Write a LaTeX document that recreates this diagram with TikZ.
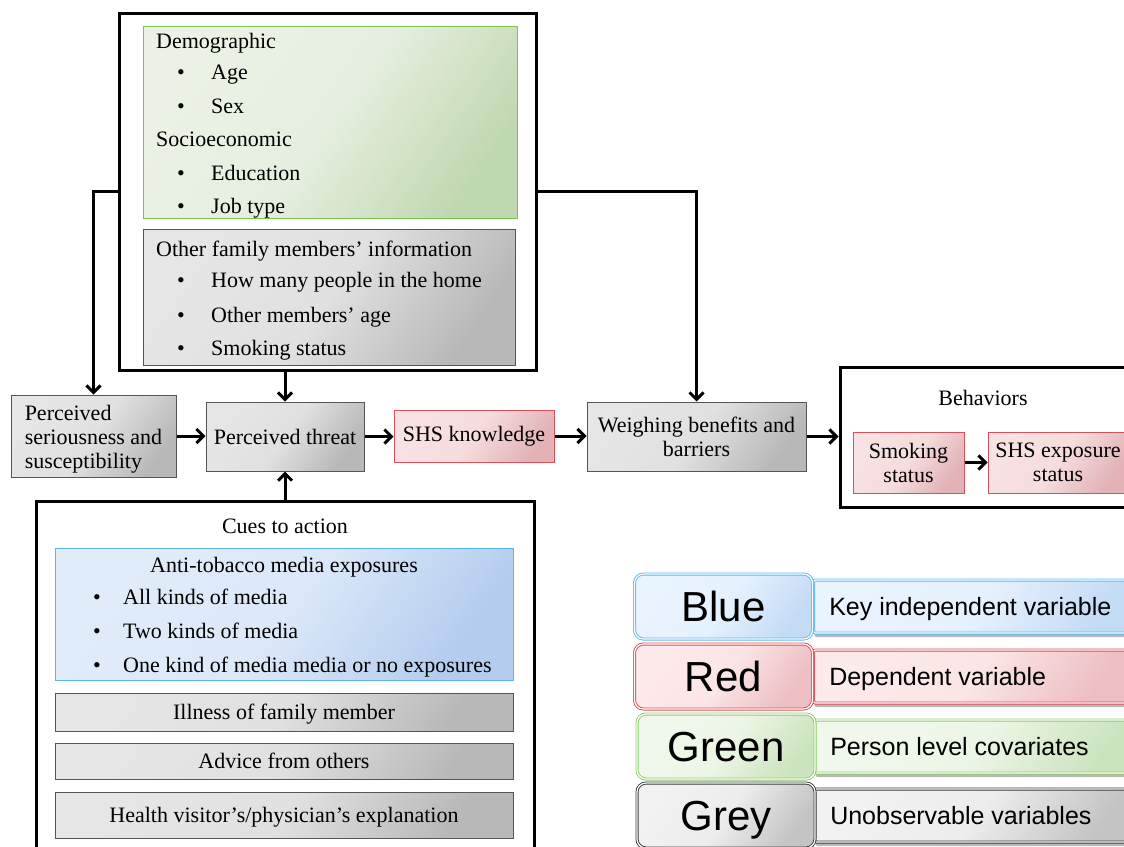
\documentclass[tikz,border=0pt]{standalone}
\usepackage{fontspec}
\setmainfont{Liberation Serif}
\newfontfamily\legfont{Liberation Sans}
\usetikzlibrary{arrows.meta,positioning,shadows}

\definecolor{grnA}{HTML}{EBF2E5}
\definecolor{grnB}{HTML}{C0D8B0}
\definecolor{grnD}{HTML}{7CC251}
\definecolor{gryA}{HTML}{E6E6E6}
\definecolor{gryB}{HTML}{B8B8B8}
\definecolor{gryD}{HTML}{555555}
\definecolor{redA}{HTML}{F8E2E3}
\definecolor{redB}{HTML}{E2B2B6}
\definecolor{redD}{HTML}{D9505A}
\definecolor{bluA}{HTML}{E1ECFA}
\definecolor{bluB}{HTML}{B4CDEE}
\definecolor{bluD}{HTML}{5AB6EA}
\definecolor{lbluA}{HTML}{EAF4FF}
\definecolor{lbluB}{HTML}{C4DBF5}
\definecolor{lbluD}{HTML}{5BB9EC}
\definecolor{lredA}{HTML}{FDEAEA}
\definecolor{lredB}{HTML}{EDBEC2}
\definecolor{lredD}{HTML}{DE4B57}
\definecolor{lgrnA}{HTML}{F0F8EB}
\definecolor{lgrnB}{HTML}{CCE4BE}
\definecolor{lgrnD}{HTML}{8DCB6B}
\definecolor{lgryA}{HTML}{F2F2F2}
\definecolor{lgryB}{HTML}{C4C4C4}
\definecolor{lgryD}{HTML}{3A3A3A}

\newcommand{\itm}[1]{\makebox[34pt][l]{\textbullet}#1}
\newcommand{\itmc}[1]{\makebox[30pt][l]{\textbullet}#1}

\tikzset{
  bigframe/.style={draw, line width=3pt, inner sep=0pt},
  grad/.style 2 args={left color=#1, right color=#2, middle color=#1!88!#2, shading angle=55},
  grnbox/.style={draw=grnD, line width=1pt, grad={grnA}{grnB}, inner sep=0pt},
  grybox/.style={draw=gryD, line width=1pt, grad={gryA}{gryB}, inner sep=0pt},
  redbox/.style={draw=redD, line width=1pt, grad={redA}{redB}, inner sep=0pt},
  blubox/.style={draw=bluD, line width=1pt, grad={bluA}{bluB}, inner sep=0pt},
  txt/.style={inner sep=0pt, anchor=base west},
  ctxt/.style={inner sep=0pt, anchor=base},
  conn/.style={line width=3pt, -{Straight Barb[length=7pt,width=14pt]}},
  legl/.style={rounded corners=9pt, line width=0.9pt, double=white, double distance=1.2pt,
    inner sep=0pt, minimum width=178pt, minimum height=65pt, text height=30pt, text depth=0pt,
    font=\legfont\fontsize{42}{44}\selectfont},
  legr/.style={rounded corners=2pt, line width=0.9pt, double=white, double distance=1.2pt,
    inner sep=0pt, minimum width=326pt, minimum height=53pt,
    drop shadow={shadow xshift=1pt, shadow yshift=-4pt, fill=black!55}},
  legtxt/.style={inner sep=0pt, text height=18pt, text depth=0pt, font=\legfont\fontsize{25}{28}\selectfont}
}

\begin{document}
\begin{tikzpicture}[x=1pt, y=-1pt, font=\fontsize{22}{24}\selectfont]
\clip (0,0) rectangle (1124,846);

% covariates
\node[bigframe, minimum width=417pt, minimum height=357pt] (topfr) at (327.5,191.5) {};
\node[grnbox, minimum width=374pt, minimum height=192pt] (demog) at (330,122) {};
\node[grybox, minimum width=372pt, minimum height=136pt] (famil) at (329,297) {};
\node[txt] (demlab) at (156,48) {Demographic};
\foreach \t/\y [count=\i] in {Age/79, Sex/113}
  \node[txt] (dem\i) at (177,\y) {\itm{\t}};
\node[txt] (soclab) at (156,146) {Socioeconomic};
\foreach \t/\y [count=\i] in {Education/180, Job type/213}
  \node[txt] (soc\i) at (177,\y) {\itm{\t}};
\node[txt] (famlab) at (156,256) {Other family members' information};
\foreach \t/\y [count=\i] in {How many people in the home/287, Other members' age/322, Smoking status/355}
  \node[txt] (fam\i) at (177,\y) {\itm{\t}};

% main chain
\node[grybox, minimum width=165pt, minimum height=82pt, align=left] (seri) at (93.5,436) {\rule{0pt}{21.5pt}Perceived\\seriousness and\\susceptibility};
\node[grybox, minimum width=158pt, minimum height=69pt] (threat) at (285,436.5) {Perceived threat};
\node[redbox, minimum width=160pt, minimum height=52pt] (know) at (474,436) {SHS knowledge};
\node[grybox, minimum width=219pt, minimum height=69pt, align=center] (weigh) at (696.5,436.5) {Weighing benefits and\\barriers};

\node[bigframe, minimum width=286pt, minimum height=140pt] (behav) at (983,437) {};
\node[ctxt] (behlab) at (983,405) {Behaviors};
\node[redbox, minimum width=111pt, minimum height=61pt, align=center] (smoke) at (908.5,462.5) {Smoking\\status};
\node[redbox, minimum width=140pt, minimum height=61pt, align=center] (expo) at (1058,462.5) {SHS exposure\\status};

% cues to action
\node[bigframe, minimum width=498pt, minimum height=369pt] (cues) at (285,685.5) {};
\node[ctxt] (cueslab) at (285,533) {Cues to action};
\node[blubox, minimum width=458pt, minimum height=132pt] (media) at (284,614) {};
\node[ctxt] (medlab) at (284,572) {Anti-tobacco media exposures};
\foreach \t/\y [count=\i] in {All kinds of media/604, Two kinds of media/638, One kind of media media or no exposures/672}
  \node[txt] (med\i) at (93,\y) {\itmc{\t}};
\node[grybox, minimum width=458pt, minimum height=38pt, text height=15pt, text depth=0pt] (ill) at (284,712) {Illness of family member};
\node[grybox, minimum width=458pt, minimum height=36pt, text height=15pt, text depth=0pt] (advice) at (284,761) {Advice from others};
\node[grybox, minimum width=458pt, minimum height=46pt, text height=15pt, text depth=0pt] (health) at (284,815) {Health visitor's/physician's explanation};

\draw[conn] (topfr.west) -| (seri.north);
\draw[conn] (topfr.east) -| (weigh.north);
\draw[conn] (topfr.south -| threat.north) -- (threat.north);
\draw[conn] (cues.north) -- (threat.south);
\draw[conn] (seri.east) -- (seri.east -| threat.west);
\draw[conn] (threat.east) -- (threat.east -| know.west);
\draw[conn] (know.east) -- (know.east -| weigh.west);
\draw[conn] (weigh.east) -- (weigh.east -| behav.west);
\draw[conn] (smoke.east) -- (smoke.east -| expo.west);

% legend
\foreach \nm/\cl/\txt/\y/\lx/\rx in {Blue/blu/Key independent variable/606.5/723.5/976.5,
    Red/red/Dependent variable/676.5/723.5/976.5,
    Green/grn/Person level covariates/746.5/726/977.5,
    Grey/gry/Unobservable variables/815.5/726/977.5}{
  \node[legr, draw=l\cl D, grad={l\cl A}{l\cl B}] (r\nm) at (\rx,\y) {};
  \node[legtxt, right=16pt of r\nm.west] (d\nm) {\txt};
  \node[legl, draw=l\cl D, grad={l\cl A}{l\cl B}] (k\nm) at (\lx,\y) {\nm};
}
\end{tikzpicture}
\end{document}
